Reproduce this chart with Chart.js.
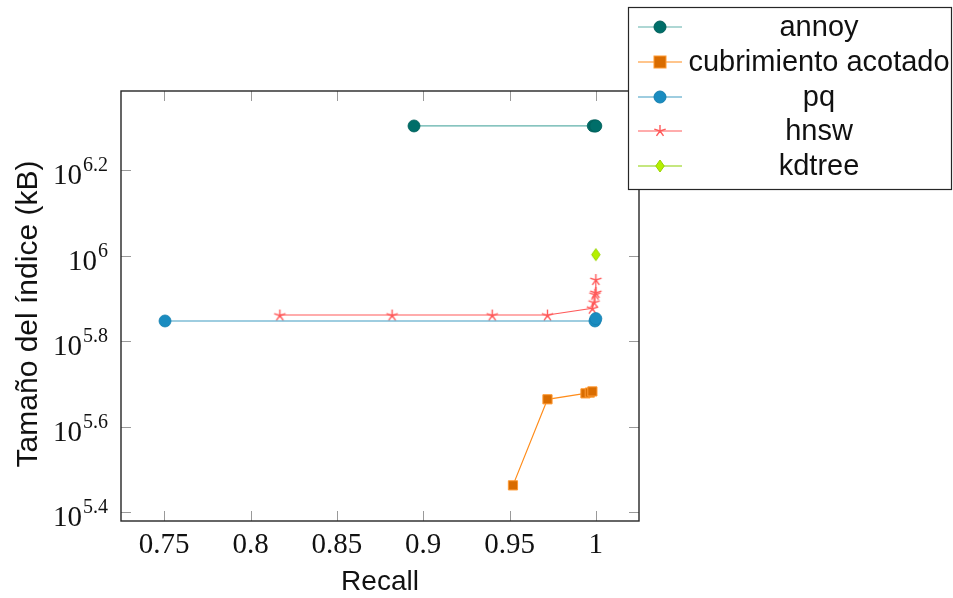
<!DOCTYPE html>
<html><head><meta charset="utf-8">
<script src="https://cdn.jsdelivr.net/npm/chart.js@4"></script>
<style>html,body{margin:0;padding:0;background:#fff}</style>
</head><body><canvas id="c" width="953" height="598"></canvas>
<script>
// ---- data ----
const seriesNames = ["annoy", "cubrimiento acotado", "pq", "hnsw", "kdtree"];
const annoyRecall = [0.8947, 0.9985, 0.9995, 1.0];
const annoySize   = [2.01e6, 2.01e6, 2.01e6, 2.01e6];
const cubRecall   = [0.952, 0.972, 0.994, 0.9965, 0.998];
const cubSize     = [2.90e5, 4.61e5, 4.76e5, 4.78e5, 4.81e5];
const pqRecall    = [0.7505, 0.9995, 1.0];
const pqSize      = [7.03e5, 7.03e5, 7.12e5];
const hnswRecall  = [0.817, 0.882, 0.940, 0.972, 0.998, 0.999, 0.9995, 1.0, 1.0];
const hnswSize    = [7.26e5, 7.26e5, 7.26e5, 7.26e5, 7.53e5, 7.78e5, 8.12e5, 8.20e5, 8.79e5];
const kdRecall    = [1.0];
const kdSize      = [1.005e6];
const xTicks      = [0.75, 0.8, 0.85, 0.9, 0.95, 1];
const xTickLabels = ["0.75", "0.8", "0.85", "0.9", "0.95", "1"];
const yTickExps   = [5.4, 5.6, 5.8, 6, 6.2];
const yTickLabels = ["5.4", "5.6", "5.8", "6", "6.2"];
const xTitle = "Recall";
const yTitle = "Tamaño del índice (kB)";

const pts = (xs, ys) => xs.map((x, i) => ({x: x, y: ys[i]}));

// ---- marker images ----
function starPath(ctx, cx, cy, r) {
  ctx.beginPath();
  for (let k = 0; k < 5; k++) {
    const a = -Math.PI / 2 + k * 2 * Math.PI / 5;
    ctx.moveTo(cx, cy);
    ctx.lineTo(cx + r * Math.cos(a), cy + r * Math.sin(a));
  }
}
function diamondPath(ctx, cx, cy, w, h) {
  ctx.beginPath();
  ctx.moveTo(cx, cy - h / 2); ctx.lineTo(cx + w / 2, cy);
  ctx.lineTo(cx, cy + h / 2); ctx.lineTo(cx - w / 2, cy); ctx.closePath();
}
const C = {
  annoy: {line: '#5fb0aa', fill: '#006e69', edge: '#005f5a'},
  cub:   {line: '#ff8c1a', fill: '#d96c00', edge: '#ff9a33'},
  pq:    {line: '#3f9cc2', fill: '#1a8cc0', edge: '#1580b0'},
  hnsw:  {line: '#ff5a5a', fill: '#ff5a5a', edge: '#ff5a5a'},
  kd:    {line: '#8ccf00', fill: '#b5f000', edge: '#98d400'}
};
function makeStar() {
  const c = document.createElement('canvas'); c.width = 15; c.height = 15;
  const g = c.getContext('2d'); g.strokeStyle = C.hnsw.edge; g.lineWidth = 1.4;
  starPath(g, 7.5, 8, 6); g.stroke(); return c;
}
function makeDiamond() {
  const c = document.createElement('canvas'); c.width = 12; c.height = 15;
  const g = c.getContext('2d'); g.fillStyle = C.kd.fill; g.strokeStyle = C.kd.edge; g.lineWidth = 1;
  diamondPath(g, 6, 7.5, 8.5, 12); g.fill(); g.stroke(); return c;
}
const starImg = makeStar();
const diamondImg = makeDiamond();

const datasets = [
  {label: seriesNames[0], data: pts(annoyRecall, annoySize), showLine: true, borderColor: C.annoy.line, borderWidth: 1.2,
   pointStyle: 'circle', pointRadius: 6, pointBackgroundColor: C.annoy.fill, pointBorderColor: C.annoy.edge, pointBorderWidth: 0.8},
  {label: seriesNames[1], data: pts(cubRecall, cubSize), showLine: true, borderColor: C.cub.line, borderWidth: 1.2,
   pointStyle: 'rect', pointRadius: 6.5, pointBackgroundColor: C.cub.fill, pointBorderColor: C.cub.edge, pointBorderWidth: 1},
  {label: seriesNames[2], data: pts(pqRecall, pqSize), showLine: true, borderColor: C.pq.line, borderWidth: 1.2,
   pointStyle: 'circle', pointRadius: 6, pointBackgroundColor: C.pq.fill, pointBorderColor: C.pq.edge, pointBorderWidth: 0.8},
  {label: seriesNames[3], data: pts(hnswRecall, hnswSize), showLine: true, borderColor: C.hnsw.line, borderWidth: 1.2,
   pointStyle: starImg, pointRadius: 6},
  {label: seriesNames[4], data: pts(kdRecall, kdSize), showLine: true, borderColor: C.kd.line, borderWidth: 1.2,
   pointStyle: diamondImg, pointRadius: 6}
];

const serif = '"Liberation Serif", "DejaVu Serif", serif';
const sans = '"Liberation Sans", Arial, sans-serif';

const decor = {
  id: 'decor',
  beforeDatasetsDraw(chart) {
    const {ctx, chartArea: a, scales: {x, y}} = chart;
    ctx.save();
    ctx.strokeStyle = '#9a9a9a'; ctx.lineWidth = 1;
    const tl = 10;
    xTicks.forEach(v => {
      const px = Math.round(x.getPixelForValue(v)) + 0.5;
      ctx.beginPath(); ctx.moveTo(px, a.bottom); ctx.lineTo(px, a.bottom - tl);
      ctx.moveTo(px, a.top); ctx.lineTo(px, a.top + tl); ctx.stroke();
    });
    yTickExps.forEach(e => {
      const py = Math.round(y.getPixelForValue(Math.pow(10, e))) + 0.5;
      ctx.beginPath(); ctx.moveTo(a.left, py); ctx.lineTo(a.left + tl, py);
      ctx.moveTo(a.right, py); ctx.lineTo(a.right - tl, py); ctx.stroke();
    });
    ctx.strokeStyle = '#262626'; ctx.lineWidth = 1.4;
    ctx.strokeRect(a.left, a.top, a.right - a.left, a.bottom - a.top);
    ctx.restore();
  },
  afterDraw(chart) {
    const {ctx, chartArea: a, scales: {x, y}} = chart;
    ctx.save();
    ctx.fillStyle = '#111';
    // x tick labels
    ctx.font = '29px ' + serif; ctx.textAlign = 'center'; ctx.textBaseline = 'alphabetic';
    xTicks.forEach((v, i) => ctx.fillText(xTickLabels[i], x.getPixelForValue(v), 553));
    // y tick labels 10^e
    yTickExps.forEach((e, i) => {
      const py = y.getPixelForValue(Math.pow(10, e));
      ctx.font = '20px ' + serif; ctx.textAlign = 'right';
      const sup = yTickLabels[i];
      const supW = ctx.measureText(sup).width;
      ctx.fillText(sup, 108, py + 1);
      ctx.font = '29px ' + serif;
      ctx.fillText('10', 108 - supW - 1, py + 14);
    });
    // axis titles
    ctx.font = '28px ' + sans; ctx.textAlign = 'center';
    ctx.fillText(xTitle, (a.left + a.right) / 2, 590);
    ctx.font = '30px ' + sans;
    ctx.save(); ctx.translate(37, 314); ctx.rotate(-Math.PI / 2);
    ctx.fillText(yTitle, 0, 0); ctx.restore();
    // legend
    const L = {x: 628, y: 7, w: 323, h: 182};
    ctx.fillStyle = '#fff'; ctx.fillRect(L.x, L.y, L.w, L.h);
    ctx.strokeStyle = '#262626'; ctx.lineWidth = 1.2; ctx.strokeRect(L.x + 0.5, L.y + 0.5, L.w, L.h);
    const rows = [27, 62, 97, 131, 166];
    const styles = [C.annoy, C.cub, C.pq, C.hnsw, C.kd];
    const kinds = ['circle', 'rect', 'circle', 'star', 'diamond'];
    rows.forEach((ry, i) => {
      const s = styles[i];
      ctx.strokeStyle = s.line; ctx.lineWidth = 1.2;
      ctx.beginPath(); ctx.moveTo(638, ry); ctx.lineTo(682, ry); ctx.stroke();
      const mx = 660;
      ctx.fillStyle = s.fill; ctx.strokeStyle = s.edge; ctx.lineWidth = 1;
      if (kinds[i] === 'circle') { ctx.beginPath(); ctx.arc(mx, ry, 6, 0, 2 * Math.PI); ctx.fill(); ctx.stroke(); }
      else if (kinds[i] === 'rect') { ctx.fillRect(mx - 6, ry - 6, 12, 12); ctx.strokeRect(mx - 6, ry - 6, 12, 12); }
      else if (kinds[i] === 'star') { ctx.lineWidth = 1.4; starPath(ctx, mx, ry, 6); ctx.stroke(); }
      else { diamondPath(ctx, mx, ry, 8.5, 12); ctx.fill(); ctx.stroke(); }
      ctx.fillStyle = '#111'; ctx.font = '29px ' + sans; ctx.textAlign = 'center'; ctx.textBaseline = 'middle';
      ctx.fillText(seriesNames[i], 819, ry + 1);
    });
    ctx.restore();
  }
};

new Chart(document.getElementById('c'), {
  type: 'scatter',
  data: {datasets: datasets},
  options: {
    responsive: false, animation: false,
    layout: {padding: {left: 121, top: 91, right: 314, bottom: 77}},
    plugins: {legend: {display: false}, tooltip: {enabled: false}},
    elements: {line: {tension: 0}},
    scales: {
      x: {type: 'linear', display: false, min: 0.725, max: 1.025},
      y: {type: 'logarithmic', display: false, min: Math.pow(10, 5.379), max: Math.pow(10, 6.385)}
    }
  },
  plugins: [decor]
});
</script>
</body></html>
